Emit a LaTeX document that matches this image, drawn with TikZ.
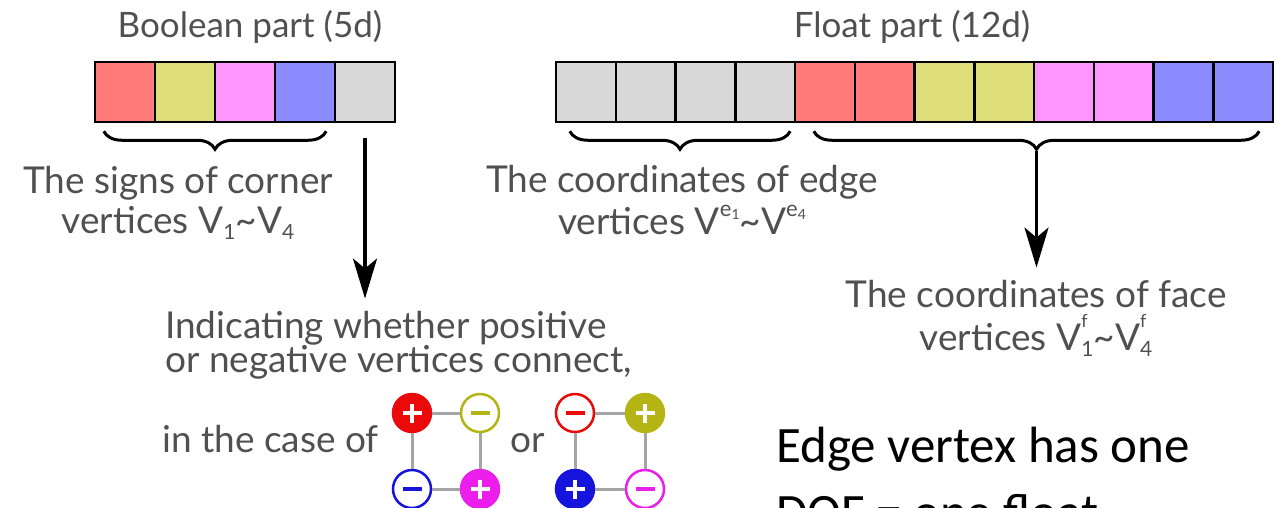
\documentclass[tikz,border=0pt]{standalone}
\usepackage{fontspec}
\setmainfont{Lato}
\newfontfamily\gillish{Carlito}
\usetikzlibrary{arrows.meta,decorations.pathreplacing,calc}
\definecolor{cRed}{RGB}{255,122,120}
\definecolor{cYel}{RGB}{222,222,122}
\definecolor{cMag}{RGB}{255,150,255}
\definecolor{cBlu}{RGB}{140,140,255}
\definecolor{cGry}{RGB}{216,216,216}
\definecolor{txt}{RGB}{80,80,80}
\definecolor{sR}{RGB}{235,10,10}
\definecolor{sY}{RGB}{180,180,20}
\definecolor{sB}{RGB}{20,20,220}
\definecolor{sM}{RGB}{235,30,235}
\definecolor{lnk}{RGB}{165,165,165}
\newcommand\lowx[1]{\raisebox{-0.35ex}{\fontsize{21}{21}\selectfont #1}}
\newcommand\esup[1]{\raisebox{0.95ex}{\fontsize{22}{22}\selectfont e\raisebox{-0.3ex}{\fontsize{14}{14}\selectfont #1}}}
\newcommand\fsub[1]{\makebox[0pt][l]{\raisebox{1.2ex}{\fontsize{18}{18}\selectfont f}}\raisebox{-0.35ex}{\fontsize{21}{21}\selectfont #1}}
\begin{document}
\begin{tikzpicture}[x=1pt,y=-1pt,
  cell/.style={draw=black, line width=2.5pt, minimum width=60pt, minimum height=60pt, inner sep=0pt, fill=#1},
  fcell/.style={cell=#1, minimum width=59.75pt},
  gtxt/.style={text=txt, font=\fontsize{37}{44}\selectfont, inner sep=0pt},
  ttl/.style={text=txt, font=\fontsize{35}{42}\selectfont, inner sep=0pt, anchor=base},
  brc/.style={draw=black, line width=3pt, decorate, decoration={brace, mirror, amplitude=18pt}},
  arr/.style={draw=black, line width=3.5pt, -{Stealth[length=40pt, width=24pt, inset=10pt]}},
  sgnbase/.style={circle, minimum size=38pt, inner sep=0pt, line width=2.5pt},
  plusf/.style={sgnbase, draw=#1, fill=#1, path picture={
      \draw[white, line width=4pt] ([xshift=-9.5pt]path picture bounding box.center) -- ([xshift=9.5pt]path picture bounding box.center);
      \draw[white, line width=4pt] ([yshift=-9.5pt]path picture bounding box.center) -- ([yshift=9.5pt]path picture bounding box.center);}},
  minuso/.style={sgnbase, draw=#1, fill=white, path picture={
      \draw[#1, line width=4pt] ([xshift=-9.5pt]path picture bounding box.center) -- ([xshift=9.5pt]path picture bounding box.center);}},
  lk/.style={draw=lnk, line width=3pt}
]
\useasboundingbox (0,0) rectangle (1278,507);
\clip (0,0) rectangle (1278,507);

% titles
\node[ttl] (btitle) at (250,37) {Boolean part (5d)};
\node[ttl] (ftitle) at (912,37) {Float part (12d)};

% boolean bar
\node[cell=cRed] (b1) at (125,92) {};
\node[cell=cYel] (b2) at (185,92) {};
\node[cell=cMag] (b3) at (245,92) {};
\node[cell=cBlu] (b4) at (305,92) {};
\node[cell=cGry] (b5) at (365,92) {};

% float bar
\foreach \i/\c in {1/cGry,2/cGry,3/cGry,4/cGry,5/cRed,6/cRed,7/cYel,8/cYel,9/cMag,10/cMag,11/cBlu,12/cBlu}{
  \node[fcell=\c] (f\i) at ({556+29.875+59.75*(\i-1)},92) {};
}

% braces
\coordinate (cbL) at ([xshift=10pt,yshift=-8pt]b1.south west);
\coordinate (cbR) at ([xshift=-10pt,yshift=-8pt]b4.south east);
\draw[brc] (cbL) -- (cbR);
\coordinate (ebL) at ([xshift=15pt,yshift=-8pt]f1.south west);
\coordinate (ebR) at ([xshift=-6pt,yshift=-8pt]f4.south east);
\draw[brc] (ebL) -- (ebR);
\coordinate (fbL) at ([xshift=20pt,yshift=-8pt]f5.south west);
\coordinate (fbR) at ([xshift=-15pt,yshift=-8pt]f12.south east);
\draw[brc] (fbL) -- (fbR);
\coordinate (ftip) at ($(fbL)!0.5!(fbR)+(0,20)$);

% left labels
\node[gtxt, anchor=base] (c1) at (178,193) {The signs of corner};
\node[gtxt, anchor=base] (c2) at (178,233) {vertices V\lowx{1}\textasciitilde V\lowx{4}};

% edge labels
\node[gtxt, anchor=base] (e1) at (682,192) {The coordinates of edge};
\node[gtxt, anchor=base] (e2) at (682,234) {vertices V\esup{1}\textasciitilde V\esup{4}};

% face labels
\node[gtxt, anchor=base] (fc1) at (1036,307) {The coordinates of face};
\node[gtxt, anchor=base] (fc2) at (1036,350) {vertices V\fsub{1}\textasciitilde V\fsub{4}};

% middle text
\node[gtxt, anchor=base west] (i1) at (165,338) {Indicating whether positive};
\node[gtxt, anchor=base west] (i2) at (165,372) {or negative vertices connect,};
\node[gtxt, anchor=base west] (i3) at (162,452) {in the case of};
\node[gtxt, anchor=base west] (or) at (510,452) {or};

% arrows
\draw[arr] ([yshift=-15pt]b5.south) -- ($(b5.south |- i1.north)+(0,-12)$);
\draw[arr] (ftip) -- ($(ftip |- fc1.north)+(0,-12)$);

% sign squares
\node[plusf=sR]  (p1) at (412,413) {};
\node[minuso=sY] (p2) at (480,413) {};
\node[minuso=sB] (p3) at (412,489) {};
\node[plusf=sM]  (p4) at (480,489) {};
\draw[lk] (p1) -- (p2);
\draw[lk] (p1) -- (p3);
\draw[lk] (p2) -- (p4);
\draw[lk] (p3) -- (p4);

\node[minuso=sR] (q1) at (575,413) {};
\node[plusf=sY]  (q2) at (645,413) {};
\node[plusf=sB]  (q3) at (575,489) {};
\node[minuso=sM] (q4) at (645,489) {};
\draw[lk] (q1) -- (q2);
\draw[lk] (q1) -- (q3);
\draw[lk] (q2) -- (q4);
\draw[lk] (q3) -- (q4);

% black text
\node[font=\gillish\fontsize{51}{60}\selectfont, text=black, inner sep=0pt, anchor=base west] (dof1) at (776,462) {Edge vertex has one};
\node[font=\gillish\fontsize{51}{60}\selectfont, text=black, inner sep=0pt, anchor=base west] (dof2) at (776,529) {DOF = one float};
\end{tikzpicture}
\end{document}
